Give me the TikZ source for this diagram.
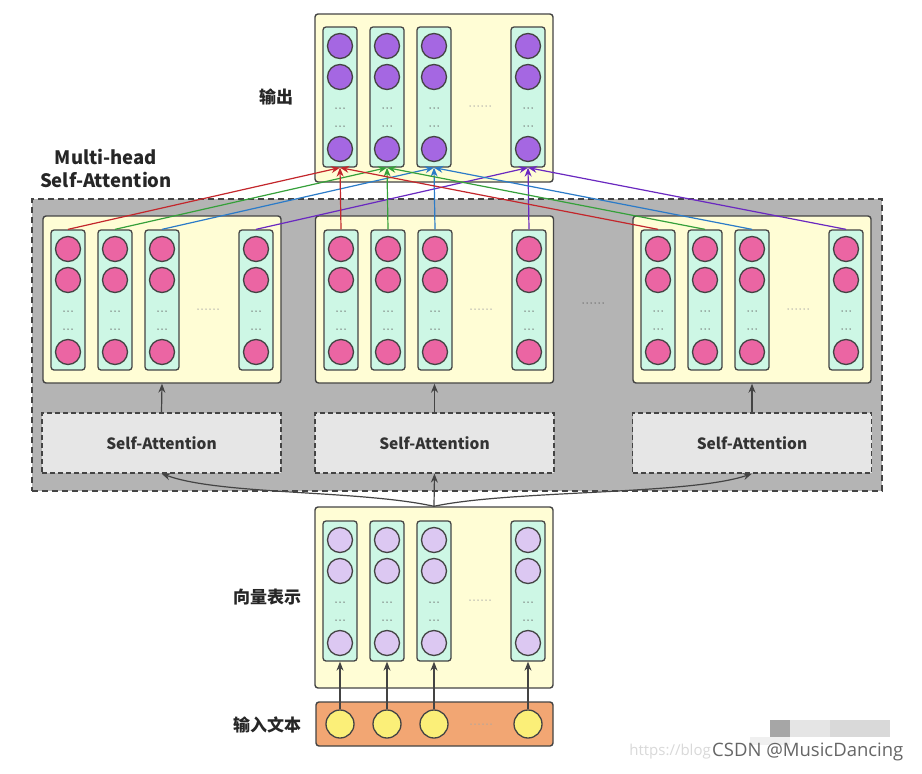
\documentclass[tikz,border=0pt]{standalone}
\usepackage{fontspec}
\newfontfamily\cjk{Noto Sans CJK SC}
\newfontfamily\wmfont{Open Sans}
\usetikzlibrary{arrows.meta}
\definecolor{edge}{HTML}{444444}
\definecolor{ybg}{HTML}{FFFDD5}
\definecolor{mint}{HTML}{CDF7E5}
\definecolor{pinkc}{HTML}{EB65A3}
\definecolor{purc}{HTML}{A567E2}
\definecolor{lavc}{HTML}{DCC8F2}
\definecolor{yelc}{HTML}{FBEF78}
\definecolor{orgbg}{HTML}{F2A673}
\definecolor{graybg}{HTML}{B4B4B4}
\definecolor{sabg}{HTML}{E6E6E6}
\definecolor{cred}{HTML}{C3262B}
\definecolor{cgreen}{HTML}{35A03A}
\definecolor{cblue}{HTML}{2B7BC8}
\definecolor{cpurple}{HTML}{6A28C0}
\newcommand\mkcols[4]{%
  \foreach \i/\dx in {1/8,2/55,3/102,4/196}{%
    \node[colbox] (#1\i) at (#2+\dx+17,#3+70) {};
    \foreach \k/\dy in {a/19,b/50,c/122}{%
      \node[ball, fill=#4] (#1\i\k) at (#2+\dx+17,#3+\dy) {};
    }
    \foreach \yy in {81,99}{\foreach \d in {-4,0,4}{\fill[edge!80] (#2+\dx+17+\d,#3+\yy) circle (0.75);}}
  }
  \foreach \d in {-10,-6,-2,2,6,10}{\fill[gray!70] (#2+165+\d,#3+79) circle (0.75);}
}
\begin{document}
\begin{tikzpicture}[x=1pt,y=-1pt,
  ybox/.style={draw=edge, line width=1.4pt, fill=ybg, rounded corners=3pt, minimum width=238, inner sep=0},
  colbox/.style={draw=edge, line width=1.3pt, fill=mint, rounded corners=3pt, minimum width=34, minimum height=140, inner sep=0},
  ball/.style={circle, draw=edge, line width=1.3pt, minimum size=25, inner sep=0},
  sabox/.style={draw=edge, line width=1.2pt, dash pattern=on 5pt off 3pt, fill=sabg, minimum width=239, minimum height=60, inner sep=0, font=\cjk\bfseries\fontsize{15.5}{18}\selectfont, text=black!80},
  lbl/.style={font=\cjk\bfseries\fontsize{17}{23}\selectfont, text=black!85, align=center},
  arr/.style={-{Stealth[length=9pt,width=7pt]}, line width=1.2pt, draw=edge},
  carr/.style={-{Stealth[length=9pt,width=7pt]}, line width=1.2pt, draw=#1}
]
\useasboundingbox (0,0) rectangle (922,774);
\fill[white] (0,0) rectangle (922,774);

% gray multi-head container
\node[draw=edge, line width=1.2pt, dash pattern=on 6pt off 4pt, fill=graybg, minimum width=850, minimum height=292, inner sep=0] (MH) at (457,345) {};

% output box
\node[ybox, minimum height=168] (OB) at (434,98) {};
\mkcols{O}{315}{27}{purc}

% multi-head boxes
\node[ybox, minimum height=167] (BL) at (162,299.5) {};
\mkcols{L}{43}{230}{pinkc}
\node[ybox, minimum height=167] (BM) at (434.5,299.5) {};
\mkcols{M}{316}{230}{pinkc}
\node[ybox, minimum height=167] (BR) at (752,299.5) {};
\mkcols{R}{633}{230}{pinkc}
\foreach \d in {-10,-6,-2,2,6,10}{\fill[edge!80] (593+\d,303) circle (0.75);}

% self-attention boxes
\node[sabox] (SAL) at (161.5,443) {Self-Attention};
\node[sabox] (SAM) at (434.5,443) {Self-Attention};
\node[sabox] (SAR) at (752,443) {Self-Attention};
\draw[arr] (SAL.north) -- (BL.south);
\draw[arr] (SAM.north) -- (BM.south);
\draw[arr] (SAR.north) -- (BR.south);

% vector box
\node[ybox, minimum height=181] (VB) at (434,597.5) {};
\mkcols{V}{315}{521}{lavc}

% input box
\node[draw=edge, line width=1.4pt, fill=orgbg, rounded corners=3pt, minimum width=237, minimum height=44, inner sep=0] (IB) at (434.5,724) {};
\foreach \i/\x in {1/340,2/387,3/434,4/528}{
  \node[circle, draw=edge, line width=1.3pt, fill=yelc, minimum size=28, inner sep=0] (I\i) at (\x,724) {};
  \draw[arr] (I\i.north) -- (V\i.south);
}
\foreach \d in {-10,-6,-2,2,6,10}{\fill[gray!70] (481+\d,724) circle (0.75);}

% vector to self-attention
\draw[arr] (VB.north) .. controls (360,490) and (220,495) .. (SAL.south);
\draw[arr] (VB.north) -- (SAM.south);
\draw[arr] (VB.north) .. controls (510,490) and (690,495) .. (SAR.south);

% colored connectors
\foreach \p in {L,M,R}{
  \draw[carr=cred] (\p1.north) -- (O1.south);
  \draw[carr=cgreen] (\p2.north) -- (O2.south);
  \draw[carr=cblue] (\p3.north) -- (O3.south);
  \draw[carr=cpurple] (\p4.north) -- (O4.south);
}

% labels
\node[lbl] (tout) at (276,97) {输出};
\node[lbl, font=\cjk\bfseries\fontsize{18.5}{23}\selectfont] (tmh) at (106,168) {Multi-head\\Self-Attention};
\node[lbl] (tvec) at (267,597) {向量表示};
\node[lbl] (tin) at (267,725) {输入文本};

% watermark
\fill[black!35] (770,720) rectangle (790,737);
\fill[black!10] (790,720) rectangle (830,737);
\fill[black!15] (830,720) rectangle (890,737);
\fill[black!6] (750,737) rectangle (790,745);
\node[font=\wmfont\fontsize{15}{17}\selectfont, text=black!15, anchor=east, inner sep=0] (wm1) at (711,752) {https://blog};
\node[font=\wmfont\fontsize{18.5}{20}\selectfont, text=black!60, anchor=west, inner sep=0] (wm2) at (712,752) {CSDN @MusicDancing};
\end{tikzpicture}
\end{document}
